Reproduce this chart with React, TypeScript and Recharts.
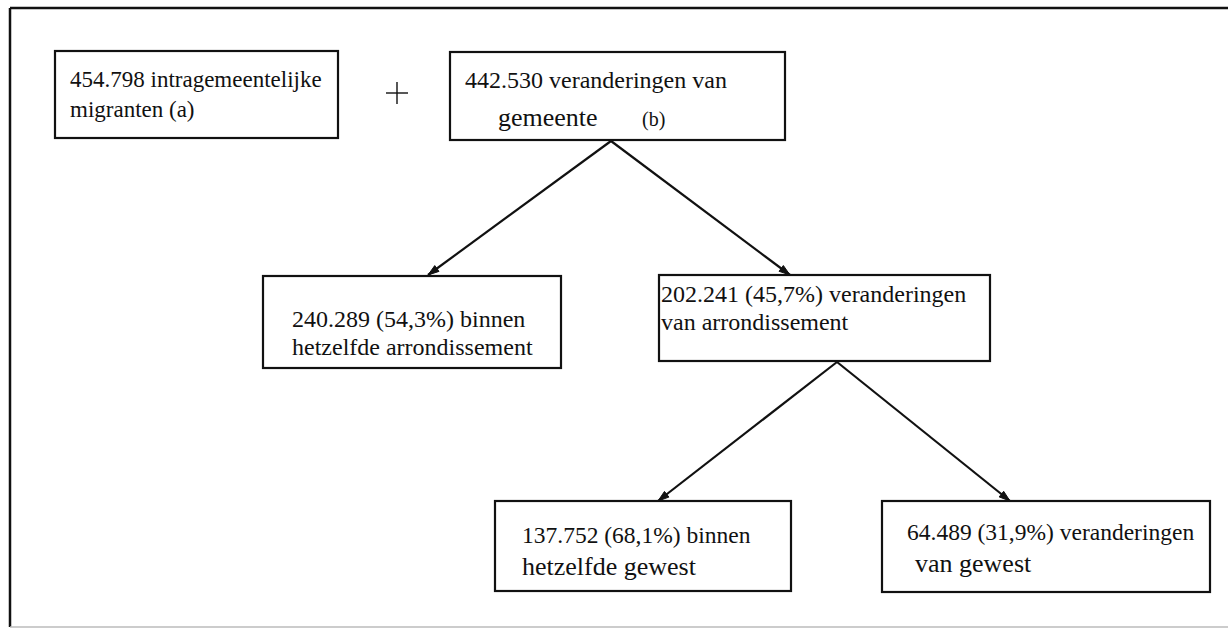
import { ScatterChart, Scatter, XAxis, YAxis, ReferenceLine } from 'recharts';

const W = 1228;
const H = 628;
const FONT = '"Liberation Serif", "Times New Roman", serif';
const INK = '#111';

// migratie-cijfers per knoop
const counts = ['454.798', '442.530', '240.289', '202.241', '137.752', '64.489'];
const shares = ['', '', '54,3%', '45,7%', '68,1%', '31,9%'];
const firstWords = ['intragemeentelijke', 'veranderingen van', 'binnen', 'veranderingen', 'binnen', 'veranderingen'];
const secondLines = ['migranten (a)', 'gemeente', 'hetzelfde arrondissement', 'van arrondissement', 'hetzelfde gewest', 'van gewest'];
const notes = ['', '(b)', '', '', '', ''];

// pijlen: van knoop -> naar knoop
const edgeFrom = [1, 1, 3, 3];
const edgeTo = [2, 3, 4, 5];

// layout (px, boxes top-left + size, text offsets)
const boxLayout = [
  { x: 55, y: 51, w: 283, h: 87, tx1: 15, tx2: 15, b1: 36, b2: 66, f1: 23, f2: 23 },
  { x: 450, y: 52, w: 335, h: 88, tx1: 15, tx2: 48, b1: 36, b2: 74, f1: 24, f2: 26, nx: 192, nf: 20 },
  { x: 263, y: 276, w: 298, h: 92, tx1: 29, tx2: 29, b1: 51, b2: 79, f1: 24, f2: 24 },
  { x: 659, y: 275, w: 331, h: 86, tx1: 2, tx2: 2, b1: 27, b2: 55, f1: 24, f2: 24 },
  { x: 495, y: 501, w: 296, h: 90, tx1: 27, tx2: 27, b1: 42, b2: 74, f1: 23.5, f2: 26 },
  { x: 882, y: 501, w: 328, h: 91, tx1: 25, tx2: 33, b1: 39, b2: 71, f1: 23.5, f2: 26 },
];
const edgeStart = [
  { x: 611, y: 141 },
  { x: 611, y: 141 },
  { x: 837, y: 362 },
  { x: 837, y: 362 },
];
const edgeEnd = [
  { x: 428, y: 275 },
  { x: 790, y: 275 },
  { x: 658, y: 501 },
  { x: 1010, y: 501 },
];
const plusPos = { x: 397, y: 93 };

function firstLine(i: number) {
  const share = shares[i] ? ` (${shares[i]})` : '';
  return `${counts[i]}${share} ${firstWords[i]}`;
}

const nodeData = boxLayout.map((b, i) => ({ x: b.x, y: b.y, i }));

function BoxShape(props: any) {
  const { cx, cy, payload } = props;
  if (cx == null || cy == null) return null;
  const i = payload.i;
  const b = boxLayout[i];
  return (
    <g>
      <rect x={cx} y={cy} width={b.w} height={b.h} fill="#fff" stroke={INK} strokeWidth={2.2} />
      <text x={cx + b.tx1} y={cy + b.b1} fontFamily={FONT} fontSize={b.f1} fill={INK}>
        {firstLine(i)}
      </text>
      <text x={cx + b.tx2} y={cy + b.b2} fontFamily={FONT} fontSize={b.f2} fill={INK}>
        {secondLines[i]}
      </text>
      {notes[i] && (
        <text x={cx + (b.nx ?? 0)} y={cy + b.b2} fontFamily={FONT} fontSize={b.nf} fill={INK}>
          {notes[i]}
        </text>
      )}
    </g>
  );
}

function ArrowShape(props: any) {
  const { cx, cy, payload } = props;
  if (!payload?.tip || cx == null) return <g />;
  const a = payload.ang;
  const len = 11;
  const hw = 3.6;
  const bx = cx - Math.cos(a) * len;
  const by = cy - Math.sin(a) * len;
  const px = -Math.sin(a) * hw;
  const py = Math.cos(a) * hw;
  return <polygon points={`${cx},${cy} ${bx + px},${by + py} ${bx - px},${by - py}`} fill={INK} stroke={INK} strokeWidth={1} />;
}

function PlusShape(props: any) {
  const { cx, cy } = props;
  const s = 11;
  return (
    <g stroke={INK} strokeWidth={1.4}>
      <line x1={cx - s} y1={cy} x2={cx + s} y2={cy} />
      <line x1={cx} y1={cy - s} x2={cx} y2={cy + s} />
    </g>
  );
}

export default function App() {
  const arrows = edgeFrom.map((f, k) => {
    const s = edgeStart[k];
    const e = edgeEnd[k];
    const ang = Math.atan2(e.y - s.y, e.x - s.x);
    return { key: `${f}-${edgeTo[k]}`, data: [{ x: s.x, y: s.y, tip: false }, { x: e.x, y: e.y, tip: true, ang }] };
  });

  return (
    <div style={{ position: 'absolute', left: 0, top: 0, width: W, height: H, background: '#fff' }}>
      <ScatterChart width={W} height={H} margin={{ top: 0, right: 0, bottom: 0, left: 0 }}>
        <XAxis type="number" dataKey="x" domain={[0, W]} ticks={[0, W]} allowDataOverflow hide />
        <YAxis type="number" dataKey="y" domain={[0, H]} ticks={[0, H]} allowDataOverflow reversed hide />

        {/* outer frame */}
        <ReferenceLine segment={[{ x: 10, y: 8 }, { x: W, y: 8 }]} stroke={INK} strokeWidth={2.5} />
        <ReferenceLine segment={[{ x: 10, y: 8 }, { x: 10, y: 627 }]} stroke={INK} strokeWidth={2.5} />
        <ReferenceLine segment={[{ x: 10, y: 627 }, { x: W, y: 627 }]} stroke="#bbb" strokeWidth={1.5} />

        {arrows.map((a) => (
          <Scatter
            key={a.key}
            data={a.data}
            line={{ stroke: INK, strokeWidth: 2.2 }}
            shape={ArrowShape}
            isAnimationActive={false}
          />
        ))}

        <Scatter data={[plusPos]} shape={PlusShape} isAnimationActive={false} />
        <Scatter data={nodeData} shape={BoxShape} isAnimationActive={false} />
      </ScatterChart>
    </div>
  );
}
